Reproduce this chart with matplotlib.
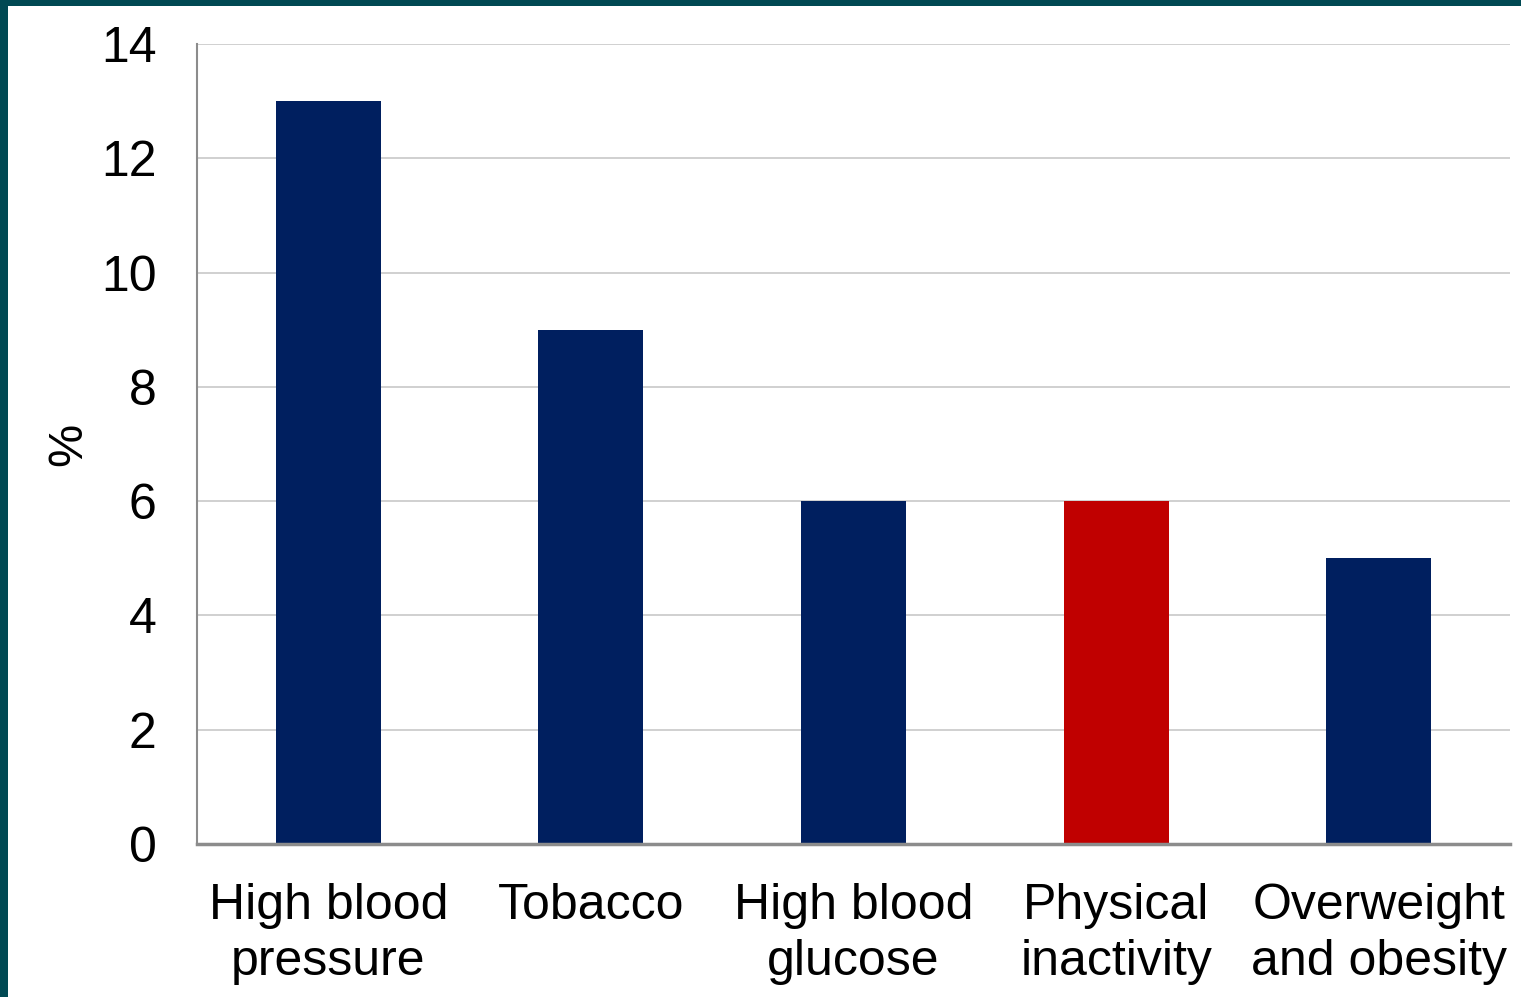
import matplotlib.pyplot as plt

# Risk factors and their share (%)
categories = ["High blood\npressure", "Tobacco", "High blood\nglucose",
              "Physical\ninactivity", "Overweight\nand obesity"]
values = [13, 9, 6, 6, 5]
colors = ["#001F5F", "#001F5F", "#001F5F", "#C00000", "#001F5F"]
yticks = [0, 2, 4, 6, 8, 10, 12, 14]

plt.rcParams['font.family'] = ['Liberation Sans', 'DejaVu Sans']

fig = plt.figure(figsize=(15.21, 9.97), dpi=100, facecolor="#004953")
# white panel inside the teal frame
fig.patches.append(plt.Rectangle((8 / 1521, 0), 1 - 8 / 1521, 1 - 6 / 997,
                                 transform=fig.transFigure, facecolor="white",
                                 edgecolor="none", zorder=-10))

ax = fig.add_axes([197 / 1521, 153 / 997, 1313 / 1521, 800 / 997])
ax.set_facecolor("white")
x = range(len(categories))
ax.bar(x, values, width=0.4, color=colors, zorder=3)

ax.set_xlim(-0.5, len(categories) - 0.5)
ax.set_ylim(0, 14)
ax.set_yticks(yticks)
ax.set_xticks(list(x))
ax.set_xticklabels(categories, fontsize=36, linespacing=1.28)
ax.tick_params(axis='y', labelsize=36, length=0, pad=29)
ax.tick_params(axis='x', length=0, pad=28)
ax.grid(axis='y', color="#C8C8C8", linewidth=1.2, zorder=0)

for side in ["top", "right"]:
    ax.spines[side].set_visible(False)
ax.spines["left"].set_color("#8C8C8C")
ax.spines["left"].set_linewidth(1.5)
ax.spines["bottom"].set_color("#8C8C8C")
ax.spines["bottom"].set_linewidth(2.5)
ax.spines["bottom"].set_zorder(4)

ax.set_ylabel("%", fontsize=35, labelpad=7)

fig.savefig("out.png", dpi=100, facecolor=fig.get_facecolor())
